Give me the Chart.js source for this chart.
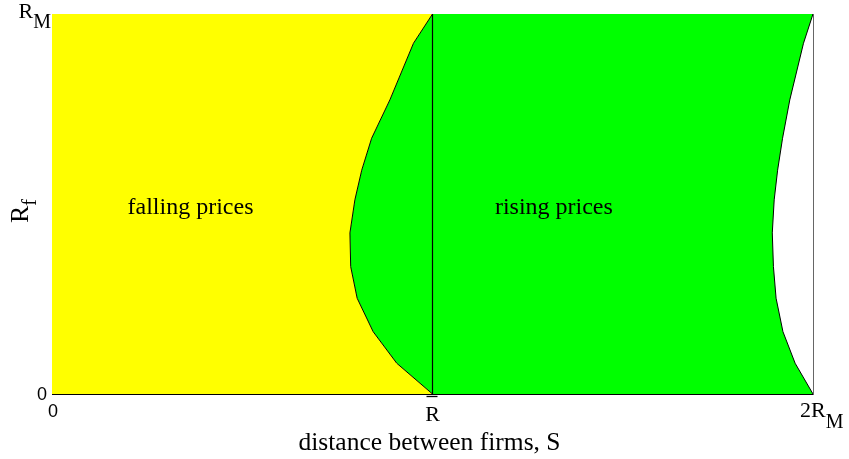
<!DOCTYPE html>
<html>
<head>
<meta charset="utf-8">
<script src="https://cdn.jsdelivr.net/npm/chart.js@4/dist/chart.umd.min.js"></script>
<style>
  html, body { margin: 0; padding: 0; background: #ffffff; }
  #wrap { width: 849px; height: 459px; }
</style>
</head>
<body>
<div id="wrap"><canvas id="c" width="849" height="459"></canvas></div>
<script>
// Firm radius levels R_f (as a share of R_M), bottom to top
const rfLevels      = [0, 0.081, 0.164, 0.252, 0.335, 0.424, 0.511, 0.589, 0.673, 0.774, 0.923, 1.0];
// Distance S (in units of R_M) where falling prices turn into rising prices
const fallingEdgeS  = [1.0, 0.906, 0.844, 0.802, 0.785, 0.783, 0.796, 0.814, 0.840, 0.888, 0.950, 1.0];
// Distance S where the rising-price region ends
const risingEdgeS   = [2.0, 1.953, 1.921, 1.903, 1.896, 1.893, 1.898, 1.907, 1.920, 1.939, 1.975, 2.0];
// Vertical marker at S = R-bar
const barS  = [1, 1];
const barRf = [0, 1];

// Tick positions and labels (main text + subscript)
const xTickValues = [0, 1, 2];
const xTickMain   = ['0', 'R', '2R'];
const xTickSub    = ['', '', 'M'];
const yTickValues = [0, 1];
const yTickMain   = ['0', 'R'];
const yTickSub    = ['', 'M'];

const regionNames = ['falling prices', 'rising prices'];
const regionAt    = [[0.364, 0.5], [1.319, 0.5]];
const xTitle      = 'distance between firms, S';
const yTitleMain  = 'R';
const yTitleSub   = 'f';

const toPoints = (xs, ys) => xs.map((v, i) => ({ x: v, y: ys[i] }));

const SERIF = '"Liberation Serif", "Times New Roman", serif';
const SANS  = '"Liberation Sans", Arial, sans-serif';

// draws "main" followed by a lowered subscript
function drawSub(ctx, main, sub, x, base, mainSize, subSize, drop, align) {
  ctx.font = mainSize + 'px ' + SERIF;
  const wm = ctx.measureText(main).width;
  ctx.font = subSize + 'px ' + SERIF;
  const ws = sub ? ctx.measureText(sub).width : 0;
  const total = wm + ws;
  let left = x;
  if (align === 'center') left = x - total / 2;
  else if (align === 'right') left = x - total;
  ctx.textAlign = 'left';
  ctx.font = mainSize + 'px ' + SERIF;
  ctx.fillText(main, left, base);
  if (sub) {
    ctx.font = subSize + 'px ' + SERIF;
    ctx.fillText(sub, left + wm, base + drop);
  }
}

const textPlugin = {
  id: 'textLayer',
  beforeDraw(chart) {
    const ctx = chart.ctx;
    ctx.save();
    ctx.fillStyle = '#ffffff';
    ctx.fillRect(0, 0, chart.width, chart.height);
    ctx.restore();
  },
  afterDraw(chart) {
    const { ctx, scales } = chart;
    const xs = scales.x, ys = scales.y;
    ctx.save();
    ctx.fillStyle = '#000000';
    ctx.textBaseline = 'alphabetic';

    // y ticks
    yTickValues.forEach((v, i) => {
      const py = ys.getPixelForValue(v);
      if (yTickMain[i] === '0') {
        ctx.font = '18px ' + SANS;
        ctx.textAlign = 'right';
        ctx.fillText('0', xs.left - 5, py + 6);
      } else {
        drawSub(ctx, yTickMain[i], yTickSub[i], xs.left - 1, py + 4, 22, 20, 10, 'right');
      }
    });

    // x ticks
    xTickValues.forEach((v, i) => {
      const px = xs.getPixelForValue(v);
      if (xTickMain[i] === '0') {
        ctx.font = '18px ' + SANS;
        ctx.textAlign = 'center';
        ctx.fillText('0', px + 1, ys.bottom + 23);
      } else if (!xTickSub[i]) {
        // R with an overline
        drawSub(ctx, xTickMain[i], '', px, ys.bottom + 27, 22, 20, 0, 'center');
        ctx.beginPath();
        ctx.strokeStyle = '#000000';
        ctx.lineWidth = 1.3;
        ctx.moveTo(px - 6, ys.bottom + 2.5);
        ctx.lineTo(px + 5, ys.bottom + 2.5);
        ctx.stroke();
      } else {
        drawSub(ctx, xTickMain[i], xTickSub[i], px - 13, ys.bottom + 23, 22, 20, 11, 'left');
      }
    });

    // region names
    ctx.font = '24px ' + SERIF;
    ctx.textAlign = 'center';
    regionNames.forEach((name, i) => {
      ctx.fillText(name, xs.getPixelForValue(regionAt[i][0]), ys.getPixelForValue(regionAt[i][1]) + 10);
    });

    // x title
    ctx.font = '25.5px ' + SERIF;
    ctx.textAlign = 'center';
    ctx.fillText(xTitle, (xs.left + xs.right) / 2 - 3, ys.bottom + 56);

    // y title, rotated
    ctx.save();
    ctx.translate(28, 223);
    ctx.rotate(-Math.PI / 2);
    drawSub(ctx, yTitleMain, yTitleSub, 0, 0, 26, 20, 8, 'left');
    ctx.restore();

    ctx.restore();
  }
};

const edgeScale = (axis, min, max, position, color) => ({
  type: 'linear', axis, position, min, max,
  ticks: { display: false },
  grid: { display: false, drawTicks: false },
  border: { display: true, color, width: 1 }
});

new Chart(document.getElementById('c'), {
  type: 'line',
  data: {
    datasets: [
      {
        label: 'R-bar',
        data: toPoints(barS, barRf),
        borderColor: '#000000',
        borderWidth: 1.2,
        pointRadius: 0,
        fill: false,
        tension: 0
      },
      {
        label: 'falling prices',
        data: toPoints(fallingEdgeS, rfLevels),
        borderColor: '#000000',
        borderWidth: 1,
        backgroundColor: '#ffff00',
        pointRadius: 0,
        fill: { value: 0 },
        tension: 0
      },
      {
        label: 'rising prices',
        data: toPoints(risingEdgeS, rfLevels),
        borderColor: '#000000',
        borderWidth: 1,
        backgroundColor: '#00ff00',
        pointRadius: 0,
        fill: 1,
        tension: 0
      }
    ]
  },
  options: {
    indexAxis: 'y',
    responsive: false,
    animation: false,
    devicePixelRatio: 1,
    layout: { padding: { left: 52, top: 14, right: 36, bottom: 65 } },
    plugins: {
      legend: { display: false },
      tooltip: { enabled: false },
      filler: { propagate: false }
    },
    scales: {
      x:  edgeScale('x', 0, 2, 'bottom', '#000000'),
      y:  edgeScale('y', 0, 1, 'left', '#000000'),
      x2: edgeScale('x', 0, 2, 'top', '#333333'),
      y2: edgeScale('y', 0, 1, 'right', '#666666')
    }
  },
  plugins: [textPlugin]
});
</script>
</body>
</html>
